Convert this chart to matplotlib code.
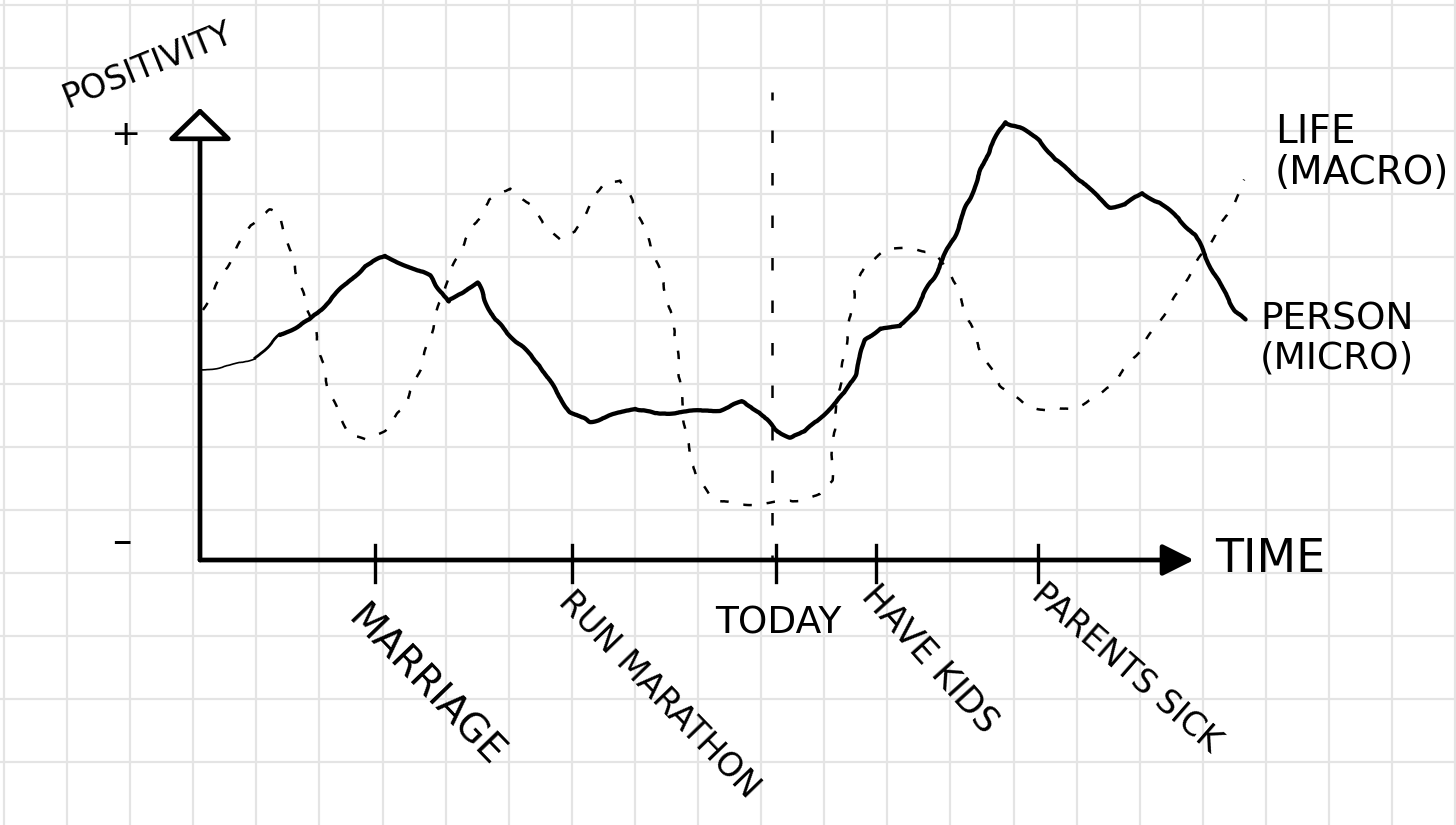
import numpy as np
import matplotlib.pyplot as plt
from matplotlib.ticker import MultipleLocator

# time runs from the origin of the sketch, positivity up from the time axis
person_time = [0, 30, 55, 80, 110, 140, 165, 185, 210, 230, 240, 248, 265, 278,
               285, 295, 320, 340, 355, 370, 390, 410, 435, 455, 480, 520, 542,
               560, 575, 590, 605, 630, 645, 655, 665, 680, 700, 715, 735, 755,
               775, 790, 805, 820, 840, 855, 875, 890, 910, 925, 942, 960, 980,
               995, 1005, 1020, 1035, 1045]
person_pos = [190, 194, 202, 225, 240, 270, 294, 304, 293, 284, 270, 258, 270, 277,
              260, 240, 215, 195, 170, 148, 138, 144, 152, 146, 148, 150, 158,
              148, 130, 123, 128, 152, 167, 185, 220, 232, 233, 250, 285, 325,
              375, 412, 438, 432, 420, 400, 385, 370, 353, 355, 367, 357, 340,
              325, 305, 275, 250, 240]

life_time = [3, 25, 50, 70, 80, 90, 100, 115, 130, 150, 165, 185, 205, 220, 232,
             245, 265, 290, 310, 330, 345, 360, 375, 390, 405, 420, 432, 445,
             460, 475, 480, 485, 495, 515, 540, 570, 600, 620, 632, 632, 635,
             645, 655, 665, 685, 715, 735, 752, 765, 780, 800, 825, 845, 875,
             900, 920, 940, 960, 980, 995, 1015, 1030, 1045]
life_pos = [250, 290, 335, 350, 345, 310, 275, 230, 165, 125, 120, 130, 155, 190,
            230, 275, 320, 360, 372, 355, 335, 320, 328, 355, 378, 380, 360, 330,
            290, 230, 180, 130, 85, 60, 55, 57, 60, 65, 80, 100, 140, 210, 270,
            295, 310, 312, 305, 285, 250, 210, 175, 155, 150, 152, 165, 185, 210,
            240, 270, 295, 325, 350, 380]

events = ["MARRIAGE", "RUN MARATHON", "TODAY", "HAVE KIDS", "PARENTS SICK"]
event_time = [175, 372, 576, 676, 838]
event_angle = [-46, -46, 0, -48, -41]
today_time = 572

# label layout (hand lettering is uneven)
label_size = [28, 24, 27, 25, 24]
label_dx = [-22, -8, 2, -8, -2]
label_dy = [-52, -36, -45, -30, -30]

plt.rcParams['font.family'] = ['DejaVu Sans']

fig = plt.figure(figsize=(14.56, 8.25), dpi=100)
ax = fig.add_axes([0, 0, 1, 1])
ax.set_xlim(-200, 1256)
ax.set_ylim(-265, 560)

# graph paper
ax.xaxis.set_major_locator(MultipleLocator(63.1, offset=56.3))
ax.yaxis.set_major_locator(MultipleLocator(63.1, offset=50.2))
ax.grid(True, color='#e4e4e4', lw=1.6)
ax.tick_params(length=0, labelbottom=False, labelleft=False)
for s in ax.spines.values():
    s.set_visible(False)

# axes arrows
ax.annotate('', xy=(0, 452), xytext=(0, 0),
            arrowprops=dict(arrowstyle='-|>,head_length=0.33,head_width=0.34',
                            lw=3.4, color='black', mutation_scale=60,
                            fc='white', shrinkA=0, shrinkB=0))
ax.annotate('', xy=(994, 0), xytext=(0, 0),
            arrowprops=dict(arrowstyle='-|>', lw=3.4, color='black',
                            mutation_scale=48, shrinkA=0, shrinkB=0))

# today marker
ax.plot([today_time, today_time], [0, 468], color='black', lw=1.8,
        ls=(3, (5, 12)))

# curves
life_line, = ax.plot(life_time, life_pos, color='black', lw=1.8,
                     ls=(0, (3.4, 6)))
thin, = ax.plot(person_time[:3], person_pos[:3], color='black', lw=1.2)
mid, = ax.plot(person_time[2:4], person_pos[2:4], color='black', lw=2.0)
thick, = ax.plot(person_time[3:], person_pos[3:], color='black', lw=3.1,
                 solid_capstyle='round', solid_joinstyle='round')
for ln in (life_line, thin, mid, thick):
    ln.set_sketch_params(1.0, 60, 4)

# event ticks and labels
for name, t, ang, fs, dx, dy in zip(events, event_time, event_angle,
                                    label_size, label_dx, label_dy):
    ax.plot([t, t], [15, -22], color='black', lw=2.4)
    if ang == 0:
        ax.text(t + dx, dy, name, fontsize=fs, ha='center', va='top')
    else:
        ax.text(t + dx, dy, name, fontsize=fs, rotation=ang,
                rotation_mode='anchor', ha='left', va='center')

ax.text(1015, 0, "TIME", fontsize=33, ha='left', va='center')
ax.text(-52, 495, "POSITIVITY", fontsize=24, rotation=22, ha='center',
        va='center')
ax.text(-75, 425, "+", fontsize=26, ha='center', va='center')
ax.text(-78, 18, "\u2013", fontsize=28, ha='center', va='center')
ax.text(1075, 447, "LIFE\n(MACRO)", fontsize=28, ha='left', va='top',
        linespacing=1.1)
ax.text(1060, 258, "PERSON\n(MICRO)", fontsize=27, ha='left', va='top',
        linespacing=1.1)

fig.savefig("out.png", dpi=100, facecolor='white')
